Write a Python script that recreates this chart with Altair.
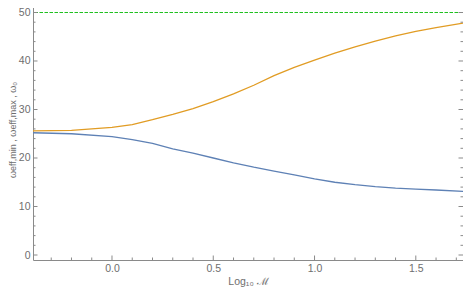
import altair as alt
import pandas as pd

# ---- data ----
log_m = [-0.39, -0.2, 0.0, 0.1, 0.2, 0.3, 0.4, 0.5, 0.6, 0.7, 0.8,
         0.9, 1.0, 1.1, 1.2, 1.3, 1.4, 1.5, 1.6, 1.733]
omega_eff_max = [25.6, 25.7, 26.3, 26.9, 27.9, 29.0, 30.2, 31.6, 33.2, 35.0, 37.0,
                 38.7, 40.2, 41.6, 42.9, 44.1, 45.2, 46.1, 46.9, 47.8]
omega_eff_min = [25.2, 25.0, 24.4, 23.8, 23.0, 21.9, 21.0, 20.0, 19.0, 18.1, 17.3,
                 16.5, 15.7, 15.0, 14.5, 14.1, 13.8, 13.6, 13.4, 13.1]
omega_0 = 50

x_domain = [-0.39, 1.733]
y_domain = [-1.03, 52.78]
x_label_values = [0.0, 0.5, 1.0, 1.5]
y_label_values = [0, 10, 20, 30, 40, 50]
x_minor_values = [-0.3, -0.2, -0.1, 0.1, 0.2, 0.3, 0.4, 0.6, 0.7, 0.8,
                  0.9, 1.1, 1.2, 1.3, 1.4, 1.6, 1.7]
y_minor_values = [2, 4, 6, 8, 12, 14, 16, 18, 22, 24, 26, 28,
                  32, 34, 36, 38, 42, 44, 46, 48, 52]

W, H = 430, 261
GRAY = "#8a8a8a"
LABEL = "#6e6e6e"
FONT = "Liberation Sans"
MAJOR_PX, MINOR_PX = 4.5, 2.5
px_per_y = H / (y_domain[1] - y_domain[0])

df_max = pd.DataFrame({"x": log_m, "y": omega_eff_max})
df_min = pd.DataFrame({"x": log_m, "y": omega_eff_min})

xs = alt.Scale(domain=x_domain, nice=False, zero=False)
ys = alt.Scale(domain=y_domain, nice=False, zero=False)

orange = alt.Chart(df_max).mark_line(color="#E19C24", strokeWidth=1.3).encode(
    x=alt.X("x:Q", scale=xs, axis=alt.Axis(
        values=x_label_values, format=".1f", ticks=False,
        domain=False, grid=False, title="Log₁₀ ℳ",
        labelFont=FONT, labelFontSize=10.5, labelColor=LABEL, labelPadding=3,
        titleFont=FONT, titleFontSize=10.5, titleColor=LABEL, titleFontWeight="normal",
        titlePadding=3)),
    y=alt.Y("y:Q", scale=ys, axis=alt.Axis(
        values=y_label_values, ticks=False,
        domain=False, grid=False, title="ωeff,min , ωeff,max , ω₀",
        labelFont=FONT, labelFontSize=10.5, labelColor=LABEL, labelPadding=3,
        titleFont=FONT, titleFontSize=9, titleColor=LABEL, titleFontWeight="normal",
        titlePadding=1)),
)

blue = alt.Chart(df_min).mark_line(color="#5E81B5", strokeWidth=1.3).encode(
    x=alt.X("x:Q", scale=xs),
    y=alt.Y("y:Q", scale=ys),
)

green = alt.Chart(pd.DataFrame({"y": [omega_0]})).mark_rule(
    color="#1fc01f", strokeWidth=1.2, strokeDash=[3.5, 1.5]).encode(
    y=alt.Y("y:Q", scale=ys),
)


def x_ticks(values, y_edge, length_px, direction):
    return alt.Chart(pd.DataFrame({"v": values})).mark_rule(
        color=GRAY, strokeWidth=1, clip=True
    ).encode(
        x=alt.X("v:Q", scale=xs),
        y=alt.Y(datum=y_edge, scale=ys),
        y2=alt.Y2(datum=y_edge + direction * length_px / px_per_y),
    )


def y_ticks(values, x_edge, size):
    return alt.Chart(pd.DataFrame({"v": values})).mark_tick(
        orient="horizontal", size=size, thickness=1, color=GRAY, clip=True, opacity=1
    ).encode(
        y=alt.Y("v:Q", scale=ys),
        x=alt.X(datum=x_edge, scale=xs),
    )


ticks = [
    x_ticks(x_label_values, y_domain[0], MAJOR_PX, 1), x_ticks(x_label_values, y_domain[1], MAJOR_PX, -1),
    x_ticks(x_minor_values, y_domain[0], MINOR_PX, 1), x_ticks(x_minor_values, y_domain[1], MINOR_PX, -1),
    y_ticks(y_label_values, x_domain[0], 2 * MAJOR_PX), y_ticks(y_label_values, x_domain[1], 2 * MAJOR_PX),
    y_ticks(y_minor_values, x_domain[0], 2 * MINOR_PX), y_ticks(y_minor_values, x_domain[1], 2 * MINOR_PX),
]

chart = alt.layer(orange, blue, green, *ticks).properties(
    width=W, height=H,
    autosize=alt.AutoSizeParams(type="none"),
    padding={"left": 25, "top": -9, "right": 0, "bottom": 28},
).configure_view(stroke=GRAY, strokeWidth=1)

chart.save("out.html", embed_options={"renderer": "svg", "actions": False})
